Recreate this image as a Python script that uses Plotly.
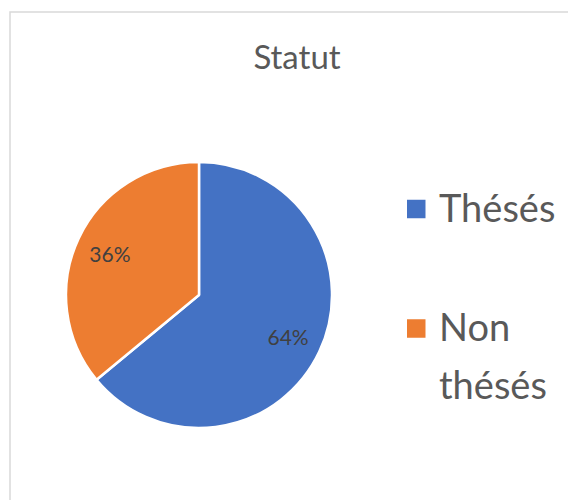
import plotly.graph_objects as go

labels = ["Thésés", "Non thésés"]
values = [64, 36]
colors = ["#4472C4", "#ED7D31"]
title_text = "Statut"

# figure is placed by the page at (8, 8); work in figure pixels
W, H = 568, 492


def px_x(v):
    return v / W


def px_y(v):
    return 1 - v / H


dom = dict(x=[px_x(57), px_x(325)], y=[px_y(420), px_y(154)])

fig = go.Figure()
# filled pie (slices)
fig.add_trace(
    go.Pie(
        labels=labels,
        values=values,
        sort=False,
        direction="clockwise",
        rotation=0,
        marker=dict(colors=colors, line=dict(color="white", width=2.5)),
        textinfo="none",
        hoverinfo="label+percent",
        showlegend=False,
        domain=dom,
    )
)
# percentage labels, placed in the outer ring of the same pie
fig.add_trace(
    go.Pie(
        labels=labels,
        values=values,
        sort=False,
        direction="clockwise",
        rotation=0,
        hole=0.48,
        marker=dict(colors=["rgba(0,0,0,0)"] * len(values), line=dict(width=0)),
        texttemplate="%{percent:.0%}",
        textposition="inside",
        insidetextorientation="horizontal",
        textfont=dict(family="Lato", size=21, color="#404040"),
        hoverinfo="skip",
        showlegend=False,
        domain=dom,
    )
)

shapes = [
    dict(
        type="rect",
        xref="paper",
        yref="paper",
        x0=px_x(2),
        x1=1.05,
        y0=-0.05,
        y1=px_y(4),
        line=dict(color="#D9D9D9", width=1.5),
        fillcolor="rgba(0,0,0,0)",
        layer="below",
    )
]
annotations = []

# legend (manual, to match large square keys)
legend_rows = [(201, 200), (320.5, 318.5)]
line_gap = 58
sq = 18.5
for (sq_cy, txt_cy), lab, col in zip(legend_rows, labels, colors):
    shapes.append(
        dict(
            type="rect",
            xref="paper",
            yref="paper",
            x0=px_x(399),
            x1=px_x(399 + sq),
            y0=px_y(sq_cy + sq / 2),
            y1=px_y(sq_cy - sq / 2),
            fillcolor=col,
            line=dict(width=0),
        )
    )
    words = lab.split(" ")
    for i, w in enumerate(words):
        annotations.append(
            dict(
                text=w,
                xref="paper",
                yref="paper",
                x=px_x(429),
                xanchor="left",
                y=px_y(txt_cy + i * line_gap - 1),
                yanchor="middle",
                showarrow=False,
                font=dict(family="Lato", size=38, color="#595959"),
            )
        )

fig.update_layout(
    width=W,
    height=H,
    margin=dict(l=0, r=0, t=0, b=0),
    paper_bgcolor="white",
    font=dict(family="Lato", color="#595959"),
    showlegend=False,
    title=dict(
        text=title_text,
        x=px_x(289),
        xanchor="center",
        y=px_y(48 + 1),
        yanchor="middle",
        xref="paper",
        yref="paper",
        font=dict(family="Lato", size=33, color="#595959"),
    ),
    shapes=shapes,
    annotations=annotations,
)

fig.write_html("out.html")
